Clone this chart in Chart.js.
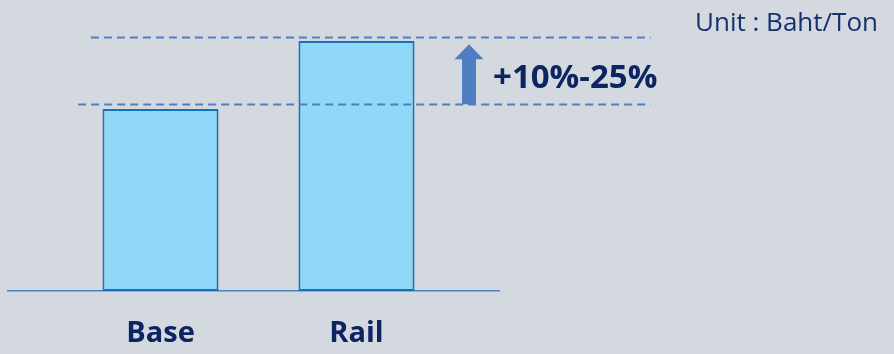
<!DOCTYPE html>
<html>
<head>
<meta charset="utf-8">
<script src="https://cdn.jsdelivr.net/npm/chart.js@4"></script>
<style>
  html, body { margin: 0; padding: 0; background: #d4d9e0; }
  #wrap { width: 894px; height: 354px; }
</style>
</head>
<body>
<div id="wrap"><canvas id="ChartRail"></canvas></div>
<script>
// categories and values (relative cost, Base = 100)
const categories = ["Base", "Rail"];
const costValues = [100, 137.4];
// dashed reference levels and the range label
const refLevels = [102.7, 139.6];
const rangeLabel = "+10%-25%";
const unitLabel = "Unit : Baht/Ton";

const navy = "#0d2463";
const lineBlue = "#4f7fc1";

// dashed lines, arrow and texts
const annotations = {
  id: "annotations",
  afterDatasetsDraw(chart) {
    const { ctx, scales: { x, y } } = chart;
    ctx.save();

    // dashed reference lines
    ctx.strokeStyle = lineBlue;
    ctx.lineWidth = 2;
    ctx.setLineDash([8, 5]);
    const starts = [-0.42, -0.355];
    refLevels.forEach((v, i) => {
      const py = Math.round(y.getPixelForValue(v)) + 0.5;
      ctx.beginPath();
      ctx.moveTo(x.getPixelForValue(starts[i]), py);
      ctx.lineTo(x.getPixelForValue(2.5), py);
      ctx.stroke();
    });
    ctx.setLineDash([]);

    // up arrow between the two levels
    const ax = x.getPixelForValue(1.574);
    const yBottom = y.getPixelForValue(refLevels[0]);
    const yTip = y.getPixelForValue(135.7);
    ctx.fillStyle = lineBlue;
    ctx.beginPath();
    ctx.moveTo(ax, yTip);
    ctx.lineTo(ax + 14.5, yTip + 15);
    ctx.lineTo(ax + 7, yTip + 15);
    ctx.lineTo(ax + 7, yBottom);
    ctx.lineTo(ax - 7, yBottom);
    ctx.lineTo(ax - 7, yTip + 15);
    ctx.lineTo(ax - 14.5, yTip + 15);
    ctx.closePath();
    ctx.fill();

    // range label
    ctx.fillStyle = navy;
    ctx.font = "bold 33px 'Open Sans'";
    ctx.textAlign = "left";
    ctx.textBaseline = "alphabetic";
    ctx.fillText(rangeLabel, ax + 24, 88);

    // unit
    ctx.fillStyle = "#14306e";
    ctx.font = "26px 'Open Sans'";
    ctx.textAlign = "right";
    ctx.fillText(unitLabel, chart.width - 16, 31);

    ctx.restore();
  }
};

document.addEventListener("DOMContentLoaded", function () {
  const ctx = document.getElementById("ChartRail");
  new Chart(ctx, {
    type: "bar",
    data: {
      datasets: [{
        data: categories.map((c, i) => ({ x: i, y: costValues[i] })),
        backgroundColor: "#8fd8f7",
        borderColor: "#1272bd",
        borderWidth: 2,
        borderSkipped: false,
        barPercentage: 0.74,
        categoryPercentage: 0.8
      }]
    },
    options: {
      responsive: true,
      maintainAspectRatio: false,
      animation: false,
      layout: { padding: { left: 8, right: 395, top: 20, bottom: 0 } },
      plugins: {
        legend: { display: false },
        tooltip: { enabled: false }
      },
      scales: {
        x: {
          type: "linear",
          offset: false,
          min: -0.778,
          max: 1.727,
          grid: { display: false, drawTicks: false },
          border: { display: true, color: lineBlue, width: 1.5 },
          afterBuildTicks: (axis) => {
            axis.ticks = categories.map((c, i) => ({ value: i }));
          },
          afterFit: (axis) => { axis.height = 63; },
          ticks: {
            padding: 25,
            maxRotation: 0,
            color: navy,
            font: { family: "'Open Sans'", size: 29, weight: "bold" },
            callback: (v) => categories[v]
          }
        },
        y: {
          display: false,
          min: 0,
          max: 149
        }
      }
    },
    plugins: [annotations]
  });
});
</script>
</body>
</html>
